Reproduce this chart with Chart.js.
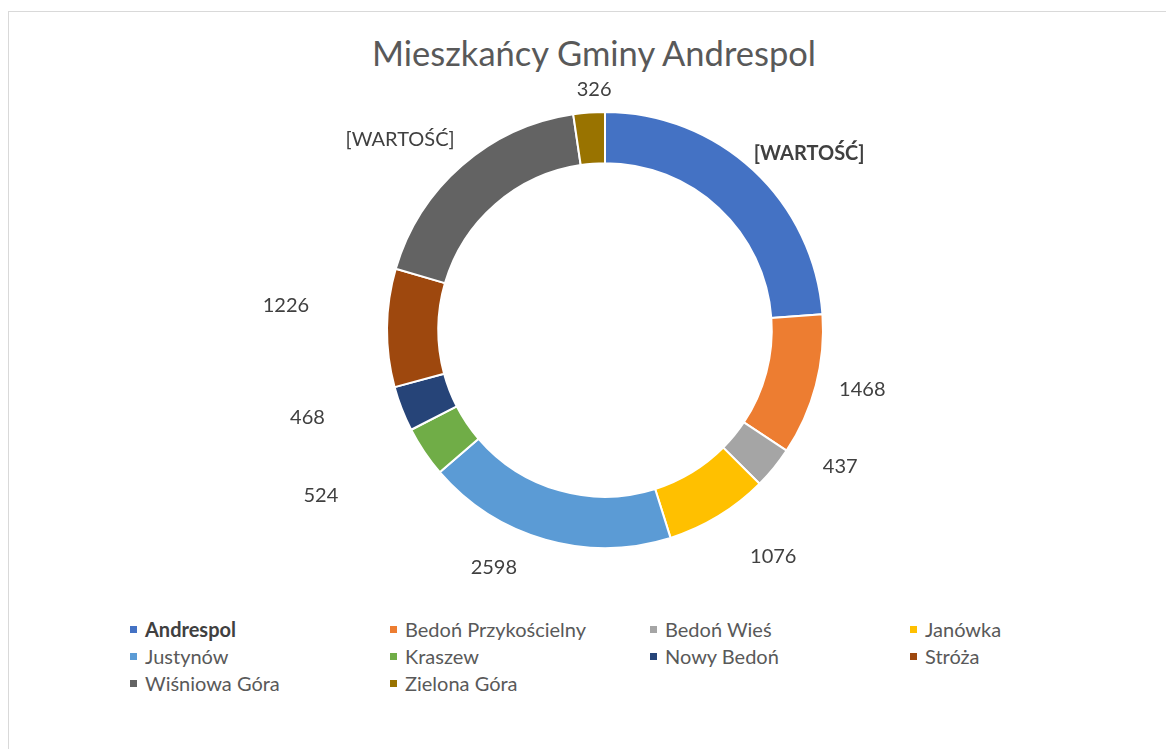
<!DOCTYPE html>
<html lang="pl">
<head>
<meta charset="utf-8">
<title>Mieszkańcy Gminy Andrespol</title>
<script src="https://cdn.jsdelivr.net/npm/chart.js@4"></script>
<style>
    html, body { margin: 0; padding: 0; background: #fff; }
    body { width: 1166px; height: 749px; position: relative; overflow: hidden; font-family: Lato, "Open Sans", sans-serif; }
    .frame { position: absolute; left: 8px; top: 11px; width: 1180px; height: 760px; border: 1px solid #d9d9d9; box-sizing: border-box; }
    .title { position: absolute; left: 0; width: 1188px; top: 36px; text-align: center; font-size: 34.5px; color: #595959; line-height: 1; }
    #chart-wrap { position: absolute; left: 0; top: 0; width: 1166px; height: 600px; }
    .legend { position: absolute; left: 130px; top: 618px; display: grid; grid-template-columns: repeat(4, 260px); row-gap: 5px; }
    .legend-item { display: flex; align-items: center; font-size: 20px; color: #595959; height: 22px; }
    .legend-item .box { width: 7px; height: 7px; margin-right: 8px; flex: none; }
    .legend-item.bold { font-weight: bold; color: #404040; }
</style>
</head>
<body>
<div class="frame"></div>
<div class="title">Mieszkańcy Gminy Andrespol</div>
<div id="chart-wrap"><canvas id="donut"></canvas></div>
<div class="legend" id="legend"></div>
<script>
// wsie / sołectwa gminy
const categories = ['Andrespol', 'Bedoń Przykościelny', 'Bedoń Wieś', 'Janówka', 'Justynów',
    'Kraszew', 'Nowy Bedoń', 'Stróża', 'Wiśniowa Góra', 'Zielona Góra'];
const residents = [3340, 1468, 437, 1076, 2598, 524, 468, 1226, 2540, 326];
// etykiety, które w oryginale pokazują "[WARTOŚĆ]" zamiast liczby
const placeholderFor = ['Andrespol', 'Wiśniowa Góra'];
const colors = ['#4472C4', '#ED7D31', '#A5A5A5', '#FFC000', '#5B9BD5',
    '#70AD47', '#264478', '#9E480E', '#636363', '#997300'];

const labelText = categories.map((c, i) => placeholderFor.includes(c) ? '[WARTOŚĆ]' : String(residents[i]));

// Excel labels were dragged around by hand: turn (deg) and distance past the ring
const labelTurn = [6.2, -1.8, -9.1, -5.3, 9.2, 3.7, 4.9, 3.9, -6.0, 1.6];
const labelGap = [52, 46, 54, 64, 44, 111, 92, 102, 62, 23];

const outsideLabels = {
    id: 'outsideLabels',
    afterDatasetsDraw(chart) {
        const ctx = chart.ctx;
        const meta = chart.getDatasetMeta(0);
        ctx.save();
        ctx.textAlign = 'center';
        ctx.textBaseline = 'middle';
        ctx.fillStyle = '#404040';
        meta.data.forEach((arc, i) => {
            const p = arc.getProps(['x', 'y', 'startAngle', 'endAngle', 'outerRadius'], true);
            const mid = (p.startAngle + p.endAngle) / 2 + labelTurn[i] * Math.PI / 180;
            const r = p.outerRadius + labelGap[i];
            ctx.font = (i === 0 ? 'bold ' : '') + '20px Lato, "Open Sans", sans-serif';
            ctx.fillText(labelText[i], p.x + Math.cos(mid) * r, p.y + Math.sin(mid) * r);
        });
        ctx.restore();
    }
};

new Chart(document.getElementById('donut'), {
    type: 'doughnut',
    data: {
        labels: categories,
        datasets: [{
            data: residents,
            backgroundColor: colors,
            borderColor: '#ffffff',
            borderWidth: 2,
            hoverOffset: 0
        }]
    },
    options: {
        responsive: true,
        maintainAspectRatio: false,
        animation: false,
        cutout: '76.5%',
        layout: { padding: { top: 111, bottom: 51, left: 44, right: 0 } },
        plugins: {
            legend: { display: false },
            title: { display: false },
            tooltip: { enabled: false }
        }
    },
    plugins: [outsideLabels]
});

// legend in a 4-column grid, as in the Excel chart
const legendEl = document.getElementById('legend');
categories.forEach((c, i) => {
    const item = document.createElement('div');
    item.className = 'legend-item' + (i === 0 ? ' bold' : '');
    item.innerHTML = `<span class="box" style="background:${colors[i]}"></span><span>${c}</span>`;
    legendEl.appendChild(item);
});
</script>
</body>
</html>
